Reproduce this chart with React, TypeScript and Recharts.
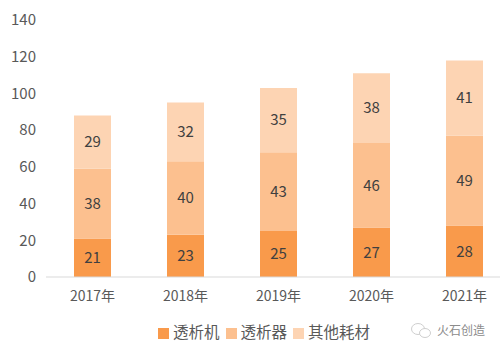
import { BarChart, Bar, XAxis, YAxis, LabelList, Legend } from 'recharts';

const years = ['2017年', '2018年', '2019年', '2020年', '2021年'];
const machines = [21, 23, 25, 27, 28];
const dialyzers = [38, 40, 43, 46, 49];
const consumables = [29, 32, 35, 38, 41];
const yTicks = [0, 20, 40, 60, 80, 100, 120, 140];
const legendOrder = ['透析机', '透析器', '其他耗材'];

const data = years.map((year, i) => ({
  year,
  machine: machines[i],
  dialyzer: dialyzers[i],
  other: consumables[i],
}));

const FONT = '"Noto Sans CJK SC", "Open Sans", sans-serif';
const labelStyle = { fill: '#404040', fontSize: 15, fontFamily: FONT };

export default function App() {
  return (
    <div style={{ position: 'absolute', left: 0, top: 0, width: 500, height: 352, overflow: 'hidden', background: '#fff' }}>
      <BarChart
        width={520}
        height={352}
        data={data}
        barSize={37}
        margin={{ top: 20, right: 9, bottom: 23, left: 0 }}
      >
        <XAxis
          dataKey="year"
          tickLine={false}
          axisLine={{ stroke: '#d9d9d9' }}
          tick={{ fill: '#595959', fontSize: 14, fontFamily: FONT }}
          tickMargin={8}
          interval={0}
        />
        <YAxis
          width={46}
          domain={[0, 140]}
          ticks={yTicks}
          tickLine={false}
          axisLine={false}
          tick={{ fill: '#595959', fontSize: 15, fontFamily: FONT }}
          tickMargin={4}
        />
        <Legend
          iconType="square"
          iconSize={11}
          align="left"
          verticalAlign="bottom"
          itemSorter={(item) => legendOrder.indexOf(String(item.value))}
          wrapperStyle={{ left: 158, bottom: 10, width: 240, fontSize: 15.5, fontFamily: FONT }}
          formatter={(value) => (
            <span style={{ color: '#595959', whiteSpace: 'nowrap', display: 'inline-block', marginRight: -4 }}>{value}</span>
          )}
        />
        <Bar dataKey="machine" name="透析机" stackId="a" fill="#f99a4b" isAnimationActive={false}>
          <LabelList dataKey="machine" position="center" style={labelStyle} />
        </Bar>
        <Bar dataKey="dialyzer" name="透析器" stackId="a" fill="#fcc08f" isAnimationActive={false}>
          <LabelList dataKey="dialyzer" position="center" style={labelStyle} />
        </Bar>
        <Bar dataKey="other" name="其他耗材" stackId="a" fill="#fdd4b3" isAnimationActive={false}>
          <LabelList dataKey="other" position="center" style={labelStyle} />
        </Bar>
      </BarChart>
      <svg width={22} height={18} style={{ position: 'absolute', left: 410, top: 322 }}>
        <ellipse cx={8} cy={7} rx={6.5} ry={5.5} fill="none" stroke="#cfcfcf" />
        <ellipse cx={15} cy={11} rx={5.5} ry={4.5} fill="#fff" stroke="#cfcfcf" />
      </svg>
      <div style={{ position: 'absolute', left: 437, top: 322, fontSize: 12, color: '#8c8c8c', fontFamily: FONT, lineHeight: '16px' }}>
        火石创造
      </div>
    </div>
  );
}
